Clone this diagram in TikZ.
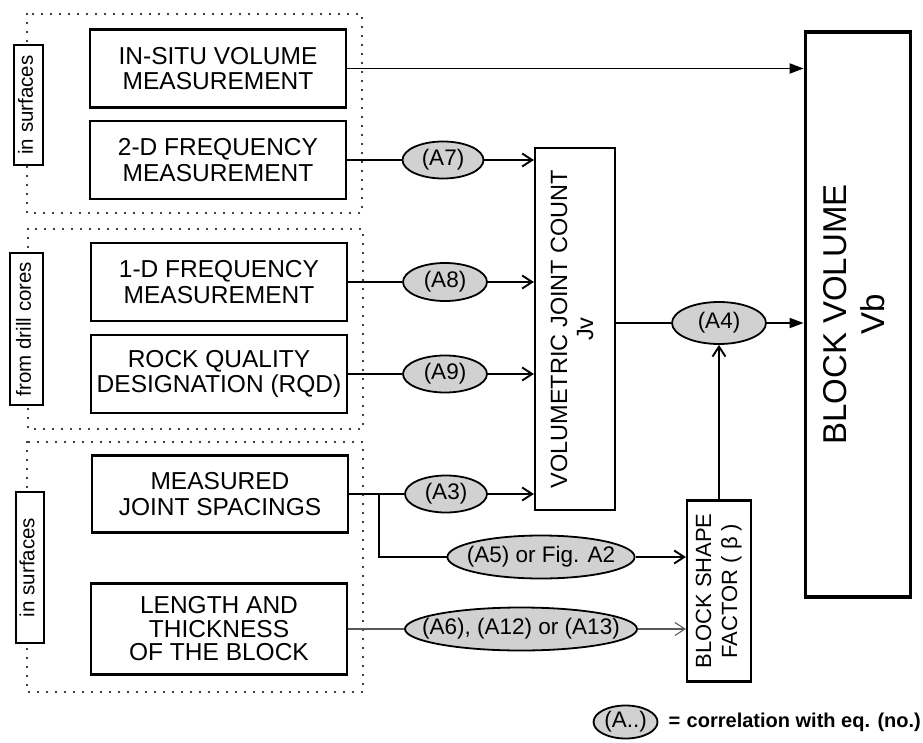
\documentclass[tikz,border=0pt]{standalone}
\usepackage{fontspec}
\usepackage{graphicx}
\setmainfont{Liberation Sans}
\usetikzlibrary{arrows.meta,positioning,shapes.geometric}
\newcommand{\uptext}[1]{\rotatebox{90}{\begin{tabular}{@{}c@{}}#1\end{tabular}}}

\begin{document}
\begin{tikzpicture}[x=1pt, y=-1pt,
  box/.style={draw, line width=2.2pt, align=center, inner sep=0pt, minimum width=256, minimum height=78, font=\fontsize{24.5}{25.5}\selectfont},
  eqn/.style={draw, ellipse, line width=1.8pt, fill=black!18, inner sep=0pt, font=\fontsize{22.5}{24}\selectfont},
  side/.style={draw, line width=1.6pt, fill=white, inner sep=0pt, font=\fontsize{20.5}{22}\selectfont},
  grp/.style={line width=2.4pt, line cap=round, dash pattern=on 0pt off 9pt},
  link/.style={line width=1.9pt},
  arr/.style={link, -{Straight Barb[length=10pt, width=13pt]}},
  farr/.style={link, -{Triangle[length=14pt, width=10pt]}},
  faint/.style={line width=1.1pt, black!65}]
\useasboundingbox (0,0) rectangle (923,743);
% dotted groups: surfaces / drill cores / surfaces
\draw[grp] (27,14) rectangle (362,213);
\draw[grp] (28,229) rectangle (363,429);
\draw[grp] (27,442) rectangle (363,692);
\node[side, minimum width=29, minimum height=120] (surf1) at (28.5,105) {\uptext{in surfaces}};
\node[side, minimum width=33, minimum height=152] (cores) at (26.5,329) {\uptext{from drill cores}};
\node[side, minimum width=28, minimum height=151] (surf2) at (30,567.5) {\uptext{in surfaces}};
% measurements
\node[box] (insitu) at (218,68.5) {IN-SITU VOLUME\\MEASUREMENT};
\node[box] (freq2) at (218,160) {2-D FREQUENCY\\MEASUREMENT};
\node[box] (freq1) at (219,282) {1-D FREQUENCY\\MEASUREMENT};
\node[box] (rqd) at (219,374) {ROCK QUALITY\\DESIGNATION (RQD)};
\node[box, minimum height=77] (spacing) at (220,494) {MEASURED\\JOINT SPACINGS};
\node[box, minimum height=91, font=\fontsize{24.5}{23.5}\selectfont] (length) at (219,629) {LENGTH AND\\THICKNESS\\OF THE BLOCK};
% derived quantities
\node[box, minimum width=80, minimum height=362, font=\fontsize{23.5}{26}\selectfont] (jv) at (575,329) {\uptext{VOLUMETRIC JOINT COUNT\\Jv}};
\node[box, minimum width=64, minimum height=181, font=\fontsize{22}{26}\selectfont] (bsf) at (719,591) {\uptext{BLOCK SHAPE\\FACTOR ( β )}};
\node[box, line width=3.8pt, minimum width=105, minimum height=565, font=\fontsize{33}{38}\selectfont] (vb) at (858,314.5) {\uptext{BLOCK VOLUME\\Vb}};
% correlations
\node[eqn, minimum width=81, minimum height=37] (a7) at (443,160) {(A7)};
\node[eqn, minimum width=84, minimum height=38] (a8) at (445,282) {(A8)};
\node[eqn, minimum width=84, minimum height=37] (a9) at (445,374) {(A9)};
\node[eqn, minimum width=82, minimum height=37] (a3) at (446,494) {(A3)};
\node[eqn, inner xsep=-8pt, minimum width=187, minimum height=43] (a5) at (541,557) {(A5) or Fig. A2};
\node[eqn, inner xsep=-18pt, minimum width=232, minimum height=43] (a6) at (521,629) {(A6), (A12) or (A13)};
\node[eqn, minimum width=94, minimum height=42] (a4) at (719,323) {(A4)};
% connectors
\draw[farr] (insitu) -- (insitu -| vb.west);
\draw[link] (freq2) -- (a7);
\draw[arr] (a7) -- (a7 -| jv.west);
\draw[link] (freq1) -- (a8);
\draw[arr] (a8) -- (a8 -| jv.west);
\draw[link] (rqd) -- (a9);
\draw[arr] (a9) -- (a9 -| jv.west);
\draw[link] (spacing) -- (a3);
\draw[arr] (a3) -- (a3 -| jv.west);
\coordinate (split) at (379,494);
\draw[link] (split) |- (a5);
\draw[arr] (a5) -- (a5 -| bsf.west);
\draw[faint] (length) -- (a6);
\draw[faint, -{Straight Barb[length=10pt, width=13pt]}] (a6) -- (a6 -| bsf.west);
\draw[link] (jv.east |- a4) -- (a4);
\draw[farr] (a4) -- (a4 -| vb.west);
\draw[arr] (bsf) -- (a4);
% legend
\node[anchor=east, inner sep=0pt, font=\bfseries\fontsize{20}{22}\selectfont] (legtxt) at (921,722) {correlation with eq. (no.)};
\node[left=6pt of legtxt, inner sep=0pt, font=\bfseries\fontsize{20}{22}\selectfont] (legeq) {=};
\node[eqn, minimum width=64, minimum height=33, left=10pt of legeq] (legeqn) {(A..)};
\end{tikzpicture}
\end{document}
